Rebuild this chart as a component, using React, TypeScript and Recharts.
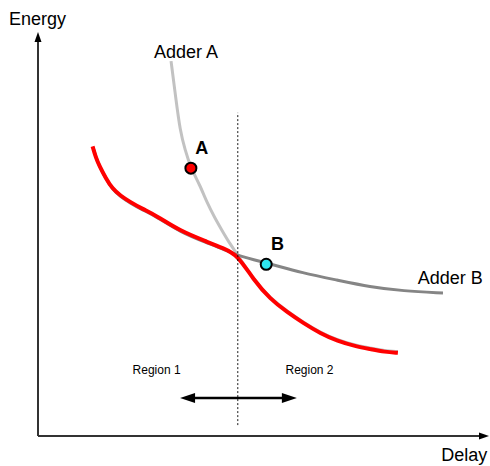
import React from "react";
import {
  ComposedChart,
  Line,
  Scatter,
  XAxis,
  YAxis,
  ReferenceLine,
  ReferenceDot,
} from "recharts";

// Delay (x) / Energy (y) in arbitrary units, 0..100
const adderA = [
  { x: 29.5, y: 92.8 }, { x: 30.6, y: 83.2 }, { x: 31.5, y: 75.7 }, { x: 32.6, y: 70.8 },
  { x: 33.9, y: 66.3 }, { x: 35.9, y: 62.1 }, { x: 37.5, y: 57.7 }, { x: 39.2, y: 54.0 },
  { x: 41.0, y: 50.5 }, { x: 42.6, y: 47.5 }, { x: 44.3, y: 44.8 }, { x: 47.7, y: 38.9 },
  { x: 51.4, y: 34.2 }, { x: 55.2, y: 30.9 }, { x: 58.8, y: 28.2 }, { x: 62.5, y: 25.7 },
  { x: 66.3, y: 23.8 }, { x: 70.3, y: 22.5 }, { x: 73.6, y: 21.8 }, { x: 76.9, y: 21.1 },
  { x: 79.8, y: 20.9 },
];

const adderB = [
  { x: 12.2, y: 71.5 }, { x: 12.9, y: 68.8 }, { x: 13.7, y: 66.6 }, { x: 15.1, y: 63.6 },
  { x: 16.6, y: 60.9 }, { x: 18.4, y: 59.2 }, { x: 20.4, y: 57.7 }, { x: 23.3, y: 55.9 },
  { x: 26.4, y: 54.2 }, { x: 31.5, y: 50.5 }, { x: 37.5, y: 47.8 }, { x: 41.0, y: 46.3 },
  { x: 44.3, y: 44.6 }, { x: 50.8, y: 42.8 }, { x: 58.8, y: 40.3 }, { x: 66.3, y: 38.6 },
  { x: 73.6, y: 36.9 }, { x: 80.9, y: 35.9 }, { x: 89.8, y: 35.4 },
];

const envelope = [
  { x: 12.1, y: 71.7 }, { x: 12.8, y: 69.0 }, { x: 13.6, y: 66.9 }, { x: 15.0, y: 63.9 },
  { x: 16.5, y: 61.2 }, { x: 18.3, y: 59.5 }, { x: 20.3, y: 58.0 }, { x: 23.2, y: 56.2 },
  { x: 26.3, y: 54.5 }, { x: 31.4, y: 50.8 }, { x: 37.4, y: 48.1 }, { x: 41.0, y: 46.5 },
  { x: 44.3, y: 44.8 }, { x: 47.8, y: 38.6 }, { x: 51.5, y: 33.9 }, { x: 55.3, y: 30.6 },
  { x: 58.9, y: 27.9 }, { x: 62.6, y: 25.4 }, { x: 66.4, y: 23.5 }, { x: 70.4, y: 22.2 },
  { x: 73.7, y: 21.5 }, { x: 76.9, y: 20.8 }, { x: 79.8, y: 20.6 },
];

const pointA = [{ x: 33.9, y: 66.3 }];
const pointB = [{ x: 50.6, y: 42.5 }];

const boundaryX = 44.3;
const boundaryRange = [2.7, 80.0];
const regionArrow = { y: 9.4, from: 31.5, to: 57.4 };

const textLabels = [
  { text: "Energy", x: -0.1, y: 101.7, bold: false, size: 18 },
  { text: "Delay", x: 94.5, y: -6.1, bold: false, size: 18 },
  { text: "Adder A", x: 32.8, y: 93.5, bold: false, size: 18 },
  { text: "Adder B", x: 91.4, y: 37.6, bold: false, size: 18 },
  { text: "A", x: 36.3, y: 69.8, bold: true, size: 18 },
  { text: "B", x: 53.1, y: 46.0, bold: true, size: 18 },
  { text: "Region 1", x: 26.3, y: 15.3, bold: false, size: 12 },
  { text: "Region 2", x: 60.2, y: 15.3, bold: false, size: 12 },
];

const FONT = "'Liberation Sans', Arial, Helvetica, sans-serif";

const makeArrow = (dir: "up" | "right" | "left", len: number, half: number, color: string) =>
  (p: any) => {
    const { cx, cy } = p;
    let pts = "";
    if (dir === "up") pts = `${cx},${cy} ${cx - half},${cy + len} ${cx + half},${cy + len}`;
    if (dir === "right") pts = `${cx},${cy} ${cx - len},${cy - half} ${cx - len},${cy + half}`;
    if (dir === "left") pts = `${cx},${cy} ${cx + len},${cy - half} ${cx + len},${cy + half}`;
    return <polygon points={pts} fill={color} stroke="none" />;
  };

const makeText = (t: { text: string; bold: boolean; size: number }) => (p: any) => (
  <text
    x={p.cx}
    y={p.cy}
    textAnchor="middle"
    fontFamily={FONT}
    fontSize={t.size}
    fontWeight={t.bold ? "bold" : "normal"}
    fill="#000"
  >
    {t.text}
  </text>
);

const dotShape = (fill: string) => (p: any) => (
  <circle cx={p.cx} cy={p.cy} r={5.5} fill={fill} stroke="#000" strokeWidth={2} />
);

export default function App() {
  return (
    <div style={{ position: "absolute", left: 0, top: 0, width: 490, height: 466, background: "#fff" }}>
      <ComposedChart
        width={490}
        height={466}
        margin={{ top: 32, right: 1, bottom: 30, left: 38 }}
      >
        <XAxis type="number" dataKey="x" domain={[0, 100]} hide allowDataOverflow />
        <YAxis type="number" dataKey="y" domain={[0, 100]} hide allowDataOverflow />

        <ReferenceLine
          segment={[{ x: 0, y: 0 }, { x: 0, y: 98 }]}
          stroke="#333"
          strokeWidth={2}
        />
        <ReferenceLine
          segment={[{ x: 0, y: 0 }, { x: 98.5, y: 0 }]}
          stroke="#333"
          strokeWidth={2}
        />
        <ReferenceDot x={0} y={100} r={0} ifOverflow="visible" shape={makeArrow("up", 10, 3.5, "#000")} />
        <ReferenceDot x={100} y={0} r={0} ifOverflow="visible" shape={makeArrow("right", 10, 3.5, "#000")} />

        <Line data={adderA} dataKey="y" type="basis" stroke="#c2c2c2" strokeWidth={3} dot={false} activeDot={false} isAnimationActive={false} />
        <Line data={adderB} dataKey="y" type="basis" stroke="#858585" strokeWidth={3} dot={false} activeDot={false} isAnimationActive={false} />
        <Line data={envelope} dataKey="y" type="basis" stroke="#ff0000" strokeWidth={4} dot={false} activeDot={false} isAnimationActive={false} />

        <ReferenceLine
          segment={[{ x: boundaryX, y: boundaryRange[0] }, { x: boundaryX, y: boundaryRange[1] }]}
          stroke="#000"
          strokeWidth={0.9}
          strokeDasharray="2 2"
        />

        <ReferenceLine
          segment={[{ x: regionArrow.from + 2.5, y: regionArrow.y }, { x: regionArrow.to - 2.5, y: regionArrow.y }]}
          stroke="#000"
          strokeWidth={2.5}
        />
        <ReferenceDot x={regionArrow.from} y={regionArrow.y} r={0} ifOverflow="visible" shape={makeArrow("left", 15, 5, "#000")} />
        <ReferenceDot x={regionArrow.to} y={regionArrow.y} r={0} ifOverflow="visible" shape={makeArrow("right", 15, 5, "#000")} />

        <Scatter data={pointA} dataKey="y" shape={dotShape("#ff0000")} isAnimationActive={false} />
        <Scatter data={pointB} dataKey="y" shape={dotShape("#2ee6ef")} isAnimationActive={false} />

        {textLabels.map((t) => (
          <ReferenceDot key={t.text} x={t.x} y={t.y} r={0} ifOverflow="visible" shape={makeText(t)} />
        ))}
      </ComposedChart>
    </div>
  );
}
